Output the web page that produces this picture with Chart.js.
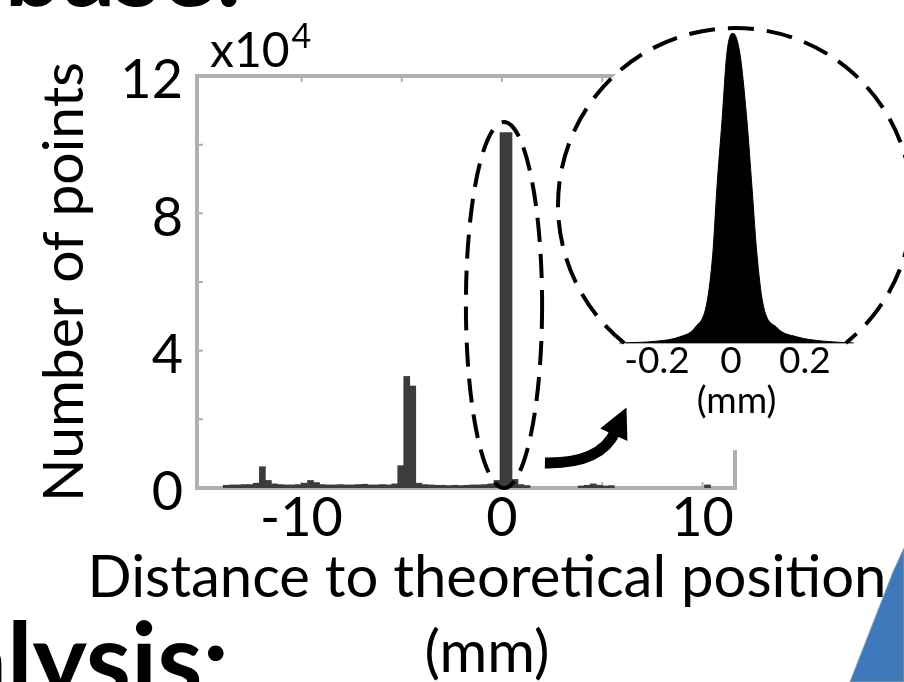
<!DOCTYPE html>
<html>
<head>
<meta charset="utf-8">
<script src="https://cdn.jsdelivr.net/npm/chart.js@4.4.1/dist/chart.umd.min.js"></script>
<style>
  html, body { margin: 0; padding: 0; background: #fff; }
  #wrap { position: relative; width: 904px; height: 682px; overflow: hidden; background: #fff; }
  #main { position: absolute; left: 0; top: 0; }
  #inset { position: absolute; left: 540px; top: 0; }
</style>
</head>
<body>
<div id="wrap">
  <canvas id="main" width="904" height="682"></canvas>
  <canvas id="inset" width="364" height="460"></canvas>
</div>
<script>
// histogram of the distance to the theoretical position (bin centre in mm, count x10^4)
var binCenters = [-13.75, -13.45, -13.15, -12.85, -12.55, -12.25, -11.95, -11.65, -11.35, -11.05,
                  -10.75, -10.45, -10.15, -9.85, -9.55, -9.25, -8.95, -8.65, -8.35, -8.05,
                  -7.75, -7.45, -7.15, -6.85, -6.55, -6.25, -5.95, -5.65, -5.35, -5.05,
                  -4.75, -4.45, -4.15, -3.85, -3.55, -3.25, -2.95, -2.65, -2.35, -2.05,
                  -1.75, -1.45, -1.15, -0.85, -0.55, -0.25, 0.05, 0.35, 0.65, 0.95,
                  1.25, 3.95, 4.25, 4.55, 4.85, 5.15, 5.45, 10.25];
var binCounts = [0.08, 0.09, 0.09, 0.1, 0.1, 0.14, 0.62, 0.22, 0.12, 0.1,
                 0.09, 0.09, 0.1, 0.14, 0.22, 0.16, 0.1, 0.09, 0.09, 0.1,
                 0.09, 0.09, 0.1, 0.11, 0.09, 0.09, 0.1, 0.09, 0.12, 0.65,
                 3.25, 2.97, 0.14, 0.1, 0.09, 0.08, 0.08, 0.07, 0.08, 0.07,
                 0.08, 0.09, 0.09, 0.1, 0.12, 0.22, 10.35, 10.35, 0.25, 0.1,
                 0.07, 0.06, 0.08, 0.12, 0.08, 0.06, 0.07, 0.09];
var xTicks = [-10, 0, 10];
var yTicks = [0, 4, 8, 12];

// zoom on the central peak (mm, relative height)
var peakX = [-0.30, -0.20, -0.138, -0.097, -0.065, -0.049, -0.038, -0.024, -0.011, 0.005,
             0.024, 0.043, 0.057, 0.070, 0.086, 0.124, 0.178, 0.25, 0.33];
var peakY = [0, 0.006, 0.02, 0.05, 0.13, 0.29, 0.5, 0.72, 0.935, 1.0,
             0.935, 0.72, 0.5, 0.29, 0.13, 0.05, 0.02, 0.006, 0];
var insetTicks = [-0.2, 0, 0.2];

var FONT = 'Lato';
var measure = document.createElement('canvas').getContext('2d');
function fitFont(text, weight, width) {
    measure.font = weight + ' 100px ' + FONT;
    return Math.round(100 * width / measure.measureText(text).width);
}
var xTitleSize = fitFont('Distance to theoretical position', 'normal', 795);
var yTitleSize = fitFont('Number of points', 'normal', 442);
var boldSize = fitFont('lysis:', 'bold', 222);

var mainDecor = {
    id: 'mainDecor',
    beforeDatasetsDraw: function (chart) {
        var ctx = chart.ctx, a = chart.chartArea, x = chart.scales.x, y = chart.scales.y;
        ctx.save();
        ctx.strokeStyle = '#b0b0b0';
        ctx.lineWidth = 4;
        ctx.strokeRect(a.left, a.top, a.right - a.left, a.bottom - a.top);
        ctx.lineWidth = 2;
        ctx.beginPath();
        [2, 4, 6, 8, 10].forEach(function (v) {
            var py = y.getPixelForValue(v);
            ctx.moveTo(a.left, py); ctx.lineTo(a.left + 6, py);
        });
        [-10, -5, 0, 5, 10].forEach(function (v) {
            var px = x.getPixelForValue(v);
            ctx.moveTo(px, a.top); ctx.lineTo(px, a.top + 6);
            ctx.moveTo(px, a.bottom); ctx.lineTo(px, a.bottom - 6);
        });
        ctx.stroke();
        ctx.restore();
    },
    afterDatasetsDraw: function (chart) {
        var ctx = chart.ctx, x = chart.scales.x, y = chart.scales.y;
        ctx.save();
        // dashed ellipse round the central peak
        var cx = x.getPixelForValue(0.1), cy = y.getPixelForValue(5.33);
        ctx.strokeStyle = '#000';
        ctx.lineWidth = 4;
        ctx.setLineDash([24, 12]);
        ctx.beginPath();
        ctx.ellipse(cx, cy, x.getPixelForValue(2.0) - cx, y.getPixelForValue(0) - cy, 0, 0, 2 * Math.PI);
        ctx.stroke();
        ctx.setLineDash([]);
        // curved arrow towards the zoom
        var p0 = [x.getPixelForValue(2.14), y.getPixelForValue(0.73)];
        var pc = [x.getPixelForValue(4.9), y.getPixelForValue(0.7)];
        var p1 = [x.getPixelForValue(5.64), y.getPixelForValue(1.63)];
        ctx.lineWidth = 11;
        ctx.lineCap = 'butt';
        ctx.beginPath();
        ctx.moveTo(p0[0], p0[1]);
        ctx.quadraticCurveTo(pc[0], pc[1], p1[0], p1[1]);
        ctx.stroke();
        var dx = p1[0] - pc[0], dy = p1[1] - pc[1], len = Math.sqrt(dx * dx + dy * dy);
        dx /= len; dy /= len;
        ctx.fillStyle = '#000';
        ctx.beginPath();
        ctx.moveTo(p1[0] + dx * 27, p1[1] + dy * 27);
        ctx.lineTo(p1[0] - dy * 15 - dx * 3, p1[1] + dx * 15 - dy * 3);
        ctx.lineTo(p1[0] + dy * 15 - dx * 3, p1[1] - dx * 15 - dy * 3);
        ctx.closePath();
        ctx.fill();
        ctx.restore();
    },
    afterDraw: function (chart) {
        var ctx = chart.ctx;
        ctx.save();
        ctx.fillStyle = '#000';
        ctx.textBaseline = 'alphabetic';
        ctx.textAlign = 'left';
        // x10^4 multiplier
        ctx.font = '48px ' + FONT;
        ctx.fillText('x10', 210, 67);
        var w = ctx.measureText('x10').width;
        ctx.font = '34px ' + FONT;
        ctx.fillText('4', 210 + w + 2, 48);
        // x axis title
        ctx.textAlign = 'center';
        ctx.font = xTitleSize + 'px ' + FONT;
        ctx.fillText('Distance to theoretical position', 487, 597);
        ctx.fillText('(mm)', 487, 672);
        // slide headings cut by the crop
        ctx.textAlign = 'right';
        ctx.font = 'bold ' + boldSize + 'px ' + FONT;
        ctx.fillText('Database:', 242, 6);
        ctx.fillText('Analysis:', 229, 697);
        // blue shape in the corner
        ctx.fillStyle = '#3e79bc';
        ctx.strokeStyle = '#9a9a9a';
        ctx.lineWidth = 1;
        ctx.beginPath();
        ctx.moveTo(893, 572);
        ctx.lineTo(904, 548);
        ctx.lineTo(904, 682);
        ctx.lineTo(850, 682);
        ctx.closePath();
        ctx.fill();
        ctx.stroke();
        ctx.restore();
    }
};

var mainChart = new Chart(
    document.getElementById('main'),
    {
        type: 'bar',
        data: {
            datasets: [{
                data: binCenters.map(function (v, i) { return {x: v, y: binCounts[i]}; }),
                backgroundColor: '#3c3c3c',
                borderWidth: 0,
                barPercentage: 1,
                categoryPercentage: 1,
                grouped: false
            }]
        },
        options: {
            responsive: false,
            animation: false,
            layout: { padding: { left: 0, top: 76, right: 169, bottom: 0 } },
            plugins: {
                legend: { display: false },
                tooltip: { enabled: false }
            },
            scales: {
                x: {
                    type: 'linear',
                    min: -15.21,
                    max: 11.62,
                    offset: false,
                    afterBuildTicks: function (s) { s.ticks = xTicks.map(function (v) { return {value: v}; }); },
                    afterFit: function (s) { s.height = 194; },
                    grid: { display: false, drawTicks: false },
                    border: { display: false },
                    ticks: {
                        font: { family: FONT, size: 54 },
                        color: '#000',
                        padding: -2,
                        maxRotation: 0,
                        autoSkip: false,
                        callback: function (v) { return String(v); }
                    }
                },
                y: {
                    min: 0,
                    max: 12,
                    afterBuildTicks: function (s) { s.ticks = yTicks.map(function (v) { return {value: v}; }); },
                    afterFit: function (s) { s.width = 197; },
                    grid: { display: false, drawTicks: false },
                    border: { display: false },
                    ticks: {
                        font: { family: FONT, size: 54 },
                        color: '#000',
                        padding: 14,
                        labelOffset: 5,
                        callback: function (v) { return String(v); }
                    },
                    title: {
                        display: true,
                        text: 'Number of points',
                        color: '#000',
                        font: { family: FONT, size: yTitleSize, lineHeight: '68px' },
                        padding: { top: 31, bottom: 0 }
                    }
                }
            }
        },
        plugins: [mainDecor]
    }
);

var insetDecor = {
    id: 'insetDecor',
    beforeDraw: function (chart) {
        var ctx = chart.ctx;
        ctx.save();
        ctx.fillStyle = '#fff';
        ctx.beginPath();
        ctx.arc(195, 205, 177, 0, 2 * Math.PI);
        ctx.fill();
        ctx.fillRect(160, 340, 70, 110);
        ctx.restore();
    },
    afterDraw: function (chart) {
        var ctx = chart.ctx, base = chart.chartArea.bottom;
        var dy = base - 205, dx = Math.sqrt(177 * 177 - dy * dy);
        ctx.save();
        ctx.strokeStyle = '#000';
        ctx.lineWidth = 4;
        ctx.setLineDash([26, 13]);
        ctx.beginPath();
        ctx.arc(195, 205, 177, Math.atan2(dy, -dx), Math.atan2(dy, dx) + 2 * Math.PI);
        ctx.stroke();
        ctx.restore();
    }
};

var insetChart = new Chart(
    document.getElementById('inset'),
    {
        type: 'line',
        data: {
            datasets: [{
                data: peakX.map(function (v, i) { return {x: v, y: peakY[i]}; }),
                borderColor: '#000',
                backgroundColor: '#000',
                borderWidth: 1,
                pointRadius: 0,
                fill: 'origin',
                cubicInterpolationMode: 'monotone'
            }]
        },
        options: {
            responsive: false,
            animation: false,
            layout: { padding: { left: 80, top: 33, right: 51, bottom: 0 } },
            plugins: {
                legend: { display: false },
                tooltip: { enabled: false }
            },
            scales: {
                x: {
                    type: 'linear',
                    min: -0.30,
                    max: 0.33,
                    afterBuildTicks: function (s) { s.ticks = insetTicks.map(function (v) { return {value: v}; }); },
                    afterFit: function (s) { s.height = 117; },
                    grid: { display: false, drawTicks: false },
                    border: { display: true, color: '#a8a8a8', width: 2 },
                    ticks: {
                        font: { family: FONT, size: 37 },
                        color: '#000',
                        padding: -4,
                        maxRotation: 0,
                        autoSkip: false,
                        callback: function (v) { return String(v); }
                    },
                    title: {
                        display: true,
                        text: '(mm)',
                        color: '#000',
                        font: { family: FONT, size: 37, lineHeight: '44px' },
                        padding: { top: 0, bottom: 37 }
                    }
                },
                y: { display: false, min: 0, max: 1 }
            }
        },
        plugins: [insetDecor]
    }
);
</script>
</body>
</html>
